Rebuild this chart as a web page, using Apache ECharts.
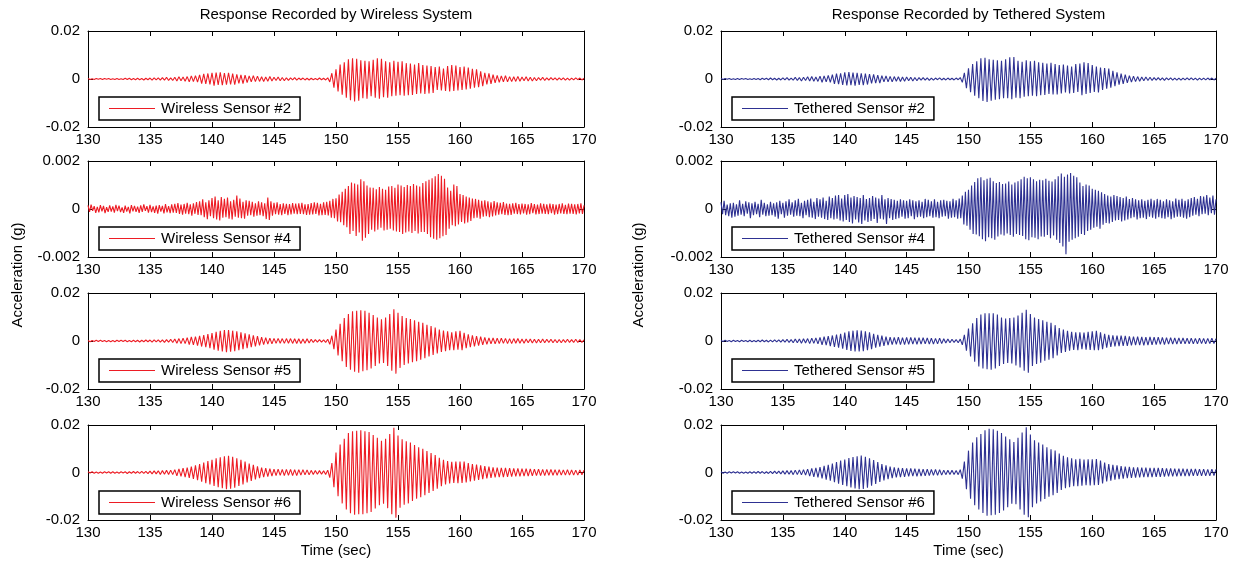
<!DOCTYPE html>
<html><head><meta charset="utf-8">
<script src="https://cdn.jsdelivr.net/npm/echarts@6/dist/echarts.min.js"></script>
<style>html,body{margin:0;padding:0;background:#fff}#c{width:1237px;height:564px}</style>
</head><body><div id="c"></div>
<script>
// ---------------- DATA ----------------
// Time axis: seconds 130..170. Each series is sampled uniformly from 130 s.
const xTickLabels = [130, 135, 140, 145, 150, 155, 160, 165, 170];
const samplesPerSecMain = 6;   // sensors #2, #5, #6
const samplesPerSecS4 = 8;     // sensor #4
const valueUnit = 1e-4;        // values below are in units of 1e-4 g

const wireless2 = [
2,-2,1,-2,2,-1, 2,-2,2,-1,2,-2, 1,-2,2,-2,1,-2, 3,-2,3,-3,2,-3, 3,-3,2,-4,3,-3,
4,-5,5,-4,5,-5, 6,-5,7,-6,5,-6, 7,-8,9,-7,8,-9, 10,-12,13,-11,14,-13, 17,-19,21,-20,23,-22,
26,-28,27,-25,28,-26, 25,-24,26,-23,22,-24, 19,-18,17,-19,16,-15, 13,-12,14,-11,12,-10, 9,-10,8,-9,10,-8,
7,-6,8,-7,6,-7, 5,-6,5,-4,6,-5, 4,-3,4,-4,3,-4, 3,-3,2,-3,4,-3, 3,-4,5,-12,24,-36,
40,-52,60,-65,70,-78, 82,-88,86,-94,84,-90, 78,-80,76,-82,74,-72, 80,-78,86,-82,84,-76, 74,-78,70,-72,76,-70,
72,-68,74,-70,66,-68, 64,-66,60,-62,66,-60, 58,-62,56,-60,54,-58, 50,-46,52,-48,44,-50, 54,-52,58,-50,56,-48,
50,-46,52,-44,48,-40, 42,-36,40,-34,32,-30, 26,-22,24,-20,18,-16, 15,-14,13,-12,14,-12, 10,-11,9,-10,11,-9,
8,-7,9,-8,7,-8, 6,-7,6,-5,7,-6, 5,-5,6,-4,5,-5, 5,-4,5,-5,4,-5, 4,-4,5,-3,4,-4,
3];

const tethered2 = [
2,-2,2,-1,2,-2, 1,-2,2,-2,2,-1, 2,-2,1,-2,2,-2, 2,-3,3,-2,3,-3, 4,-3,3,-4,3,-4,
5,-4,6,-5,4,-5, 7,-6,6,-8,7,-6, 9,-8,10,-9,8,-10, 12,-14,13,-12,15,-14, 18,-20,22,-21,24,-25,
28,-27,29,-26,27,-28, 26,-25,24,-26,22,-23, 20,-18,19,-17,16,-17, 14,-12,13,-12,11,-12, 10,-9,9,-10,8,-9,
8,-7,7,-8,6,-7, 6,-5,6,-5,5,-6, 4,-5,4,-3,5,-4, 3,-4,4,-3,3,-4, 4,-3,6,-14,26,-38,
45,-55,62,-70,74,-80, 86,-92,88,-96,82,-90, 80,-86,78,-84,76,-80, 82,-80,90,-84,92,-78, 76,-80,72,-74,78,-72,
74,-70,76,-72,70,-68, 68,-66,64,-62,68,-64, 62,-64,58,-60,60,-56, 56,-60,52,-58,62,-54, 64,-68,70,-62,66,-58,
58,-54,52,-56,48,-46, 46,-40,44,-36,34,-30, 28,-24,22,-20,18,-16, 14,-13,12,-11,10,-9, 8,-7,8,-6,7,-6,
6,-5,6,-5,5,-6, 5,-4,5,-5,4,-5, 4,-5,4,-4,5,-4, 5,-4,4,-5,4,-4, 4,-4,4,-3,4,-4,
3];

const wireless4 = [
1.5,-1.2,1.8,-0.8,1.2,-1.6,0.9,-1.4, 1.6,-1.0,1.3,-1.7,0.8,-1.2,1.5,-1.1, 1.1,-1.5,1.7,-0.9,1.4,-1.3,0.7,-1.6,
1.4,-1.1,0.9,-1.8,1.6,-1.0,1.3,-1.2, 1.0,-1.6,1.5,-1.2,1.9,-0.8,1.2,-1.5, 1.7,-1.3,1.1,-1.6,1.4,-1.9,1.6,-1.1,
1.3,-1.8,2.0,-1.4,1.2,-1.7,1.9,-1.5, 2.2,-1.6,2.5,-2.0,1.8,-2.4,2.1,-1.9, 2.6,-2.2,1.9,-2.8,2.4,-2.0,2.9,-2.5,
3.2,-2.6,4.0,-3.4,2.8,-4.2,3.6,-3.0, 4.6,-3.8,5.2,-4.4,3.6,-4.8,5.0,-3.6, 4.2,-3.4,4.8,-4.0,3.2,-4.4,3.8,-3.2,
5.6,-3.6,4.4,-3.8,3.0,-4.0,3.6,-2.8, 3.4,-2.6,3.0,-3.2,2.4,-2.8,3.2,-2.6, 2.8,-3.0,2.4,-4.2,4.8,-4.6,3.2,-2.8,
2.6,-2.2,2.8,-2.4,2.0,-2.6,2.4,-2.0, 2.2,-2.6,2.0,-2.3,2.5,-1.9,2.3,-2.2, 2.4,-2.0,2.6,-2.2,1.9,-2.5,2.1,-2.4,
2.5,-2.3,2.8,-2.1,2.6,-2.7,2.2,-2.6, 2.8,-2.5,3.0,-2.7,3.4,-3.6,4.2,-3.8,
4.5,-5.2,6.0,-5.5,7.2,-6.8,8.4,-7.6, 9.6,-10.4,11.0,-9.2,10.6,-11.2,10.2,-9.8, 12.4,-13.2,11.6,-12.0,9.8,-10.4,9.0,-8.6,
8.8,-9.4,8.2,-8.6,9.2,-7.8,8.4,-9.0, 8.0,-8.6,9.4,-8.2,9.6,-9.0,8.8,-9.4, 10.2,-9.6,9.8,-10.4,9.2,-9.8,10.0,-9.4,
9.6,-10.0,10.4,-9.2,9.8,-10.2,9.4,-9.6, 10.8,-9.6,11.6,-10.4,12.2,-11.8,12.8,-12.4, 13.6,-12.8,14.6,-12.2,13.8,-11.4,12.6,-10.8,
9.0,-8.2,7.6,-6.8,10.2,-7.2,9.6,-6.4, 6.2,-5.4,5.8,-6.0,5.2,-5.6,4.8,-5.0, 4.4,-3.8,4.2,-3.6,3.8,-4.0,3.4,-3.2,
3.6,-3.0,3.2,-3.4,2.8,-3.1,3.3,-2.7, 2.8,-2.4,2.6,-2.2,2.9,-2.5,2.3,-2.6, 2.2,-2.5,2.4,-1.9,2.6,-2.1,2.0,-2.3,
2.3,-1.8,2.1,-2.4,1.9,-2.2,2.5,-1.7, 2.0,-2.3,1.8,-2.1,2.4,-1.9,2.2,-2.0, 1.9,-2.2,2.3,-1.7,2.0,-2.4,1.8,-2.1,
2.1,-1.8,2.4,-2.0,1.7,-2.2,2.3,-1.9, 2.2,-2.0,1.9,-2.3,2.1,-1.8,2.4,-2.0,
1.5];

const tethered4 = [
2.8,-2.2,3.4,-2.6,1.8,-3.0,2.4,-3.6, 2.6,-3.2,2.0,-2.8,3.6,-2.4,2.2,-3.0, 3.2,-2.0,2.8,-3.8,2.4,-2.6,3.0,-2.2,
2.2,-3.4,3.8,-2.4,2.6,-3.0,2.0,-2.8, 3.0,-2.6,2.4,-3.2,2.8,-4.0,3.4,-2.2, 2.6,-3.6,3.2,-2.8,4.0,-2.4,2.8,-3.2,
3.6,-2.8,4.2,-3.0,2.6,-3.8,3.4,-2.6, 3.8,-3.4,4.4,-3.6,3.0,-4.2,4.6,-3.2, 4.0,-3.6,4.8,-4.2,3.4,-4.6,5.2,-3.8,
4.6,-4.4,5.6,-4.0,5.8,-4.8,4.4,-5.2, 5.8,-4.6,6.2,-5.4,4.8,-6.0,5.4,-4.4, 5.0,-5.6,4.6,-6.2,5.8,-4.8,4.2,-5.4,
4.6,-5.0,5.4,-4.2,4.8,-5.8,4.4,-4.0, 5.8,-4.4,4.0,-6.2,4.6,-3.8,4.2,-4.6, 3.8,-4.2,3.4,-3.8,4.0,-3.2,3.6,-4.0,
3.4,-3.8,4.0,-3.0,3.6,-4.2,3.2,-3.4, 3.6,-3.2,3.0,-3.8,4.2,-3.4,3.8,-3.0, 3.2,-3.6,4.0,-3.4,3.0,-3.8,3.6,-3.2,
3.8,-3.0,3.4,-4.0,3.2,-3.6,4.2,-3.4, 3.6,-4.0,4.4,-3.8,5.6,-6.4,7.2,-7.0,
8.0,-8.6,9.8,-10.4,11.2,-10.6,12.8,-11.4, 13.2,-12.6,12.0,-13.4,12.6,-11.8,13.0,-12.2, 11.6,-12.8,10.8,-11.4,11.2,-10.6,10.4,-11.0,
10.6,-10.2,11.4,-10.8,10.2,-11.6,11.0,-10.4, 11.6,-10.8,12.4,-11.2,13.4,-12.6,12.8,-13.0, 13.2,-11.8,12.4,-12.0,11.6,-12.6,12.2,-11.4,
12.0,-11.6,12.6,-10.8,11.8,-12.2,11.4,-11.0, 12.4,-12.8,13.6,-14.2,14.8,-15.6,13.4,-18.8, 14.4,-13.6,15.0,-12.8,13.8,-12.2,13.2,-11.6,
11.0,-10.4,9.6,-10.8,10.2,-9.2,9.8,-8.6, 8.4,-7.8,8.0,-7.4,7.6,-8.2,7.0,-6.6, 6.2,-5.8,5.6,-6.0,5.2,-5.4,5.8,-4.8,
5.4,-4.6,5.0,-5.2,4.6,-4.8,5.2,-4.4, 4.2,-3.8,4.6,-3.4,4.0,-4.4,3.6,-3.8, 4.0,-3.6,3.4,-4.2,3.8,-3.2,4.2,-3.6,
3.6,-4.0,4.2,-3.4,3.8,-3.8,3.2,-4.0, 4.0,-3.4,3.6,-4.2,3.2,-3.6,4.4,-3.2, 3.8,-3.2,4.2,-3.6,3.4,-4.0,4.0,-3.4,
4.6,-2.8,5.0,-2.4,4.2,-3.0,5.4,-2.2, 5.2,-2.0,5.8,-2.6,4.8,-1.8,5.6,-2.4,
4.0];

const wireless5 = [
2,-3,2,-2,3,-2, 3,-2,2,-3,2,-3, 2,-3,3,-2,3,-2, 3,-3,2,-3,3,-3, 3,-4,3,-3,4,-3,
4,-5,5,-4,5,-5, 5,-6,6,-5,7,-6, 8,-9,10,-11,12,-11, 14,-15,17,-16,18,-19, 21,-23,25,-26,29,-30,
33,-36,38,-40,42,-44, 46,-47,46,-45,43,-42, 40,-38,36,-34,32,-30, 28,-26,24,-22,20,-18, 16,-15,14,-13,12,-12,
11,-10,11,-9,10,-10, 10,-9,10,-10,9,-10, 9,-10,8,-9,9,-8, 7,-6,6,-5,6,-5, 5,-6,7,-14,22,-34,
48,-60,72,-84,96,-108, 112,-120,124,-128,126,-132, 128,-126,126,-122,118,-114, 108,-104,98,-94,90,-92, 98,-104,112,-124,132,-136,
118,-112,104,-100,96,-94, 92,-88,86,-84,80,-78, 76,-72,68,-64,62,-58, 56,-52,48,-46,44,-42, 40,-38,36,-38,40,-36,
42,-38,34,-30,28,-26, 24,-22,20,-19,18,-16, 15,-14,13,-12,13,-12, 12,-11,12,-10,11,-11, 10,-11,10,-9,10,-9,
8,-9,8,-7,8,-8, 7,-8,7,-7,8,-7, 7,-6,7,-7,6,-7, 6,-7,6,-6,7,-6, 6,-6,7,-6,6,-6,
5];

const tethered5 = [
2,-2,3,-2,2,-3, 3,-2,2,-3,3,-2, 2,-3,3,-3,2,-3, 3,-3,4,-3,3,-4, 4,-4,5,-4,5,-5,
6,-5,7,-6,6,-7, 8,-7,8,-9,9,-8, 10,-11,12,-10,13,-12, 15,-16,18,-17,20,-21, 23,-25,27,-28,30,-32,
35,-37,40,-41,43,-44, 45,-44,44,-42,40,-38, 36,-34,30,-28,26,-24, 22,-20,18,-17,16,-15, 15,-14,16,-15,14,-15,
15,-14,15,-13,14,-14, 14,-13,14,-12,13,-13, 12,-13,11,-12,12,-11, 9,-8,8,-7,7,-6, 6,-7,8,-16,26,-40,
52,-64,74,-86,96,-106, 110,-114,116,-118,116,-120, 116,-114,110,-104,98,-96, 94,-92,96,-94,98,-102, 106,-110,118,-124,130,-132,
112,-104,98,-96,92,-90, 86,-82,80,-78,76,-72, 66,-60,54,-50,48,-46, 42,-40,38,-37,36,-38, 36,-34,35,-36,38,-37,
40,-38,42,-38,36,-34, 30,-28,26,-25,24,-23, 22,-21,22,-20,21,-20, 19,-18,18,-17,18,-17, 17,-18,16,-17,17,-16,
16,-15,16,-14,15,-15, 14,-13,14,-13,13,-13, 13,-12,13,-12,12,-12, 12,-12,11,-12,12,-11, 11,-12,11,-11,12,-11,
10];

const wireless6 = [
3,-2,3,-3,2,-3, 2,-3,3,-2,3,-3, 3,-3,2,-3,3,-2, 3,-4,3,-3,4,-3, 4,-4,5,-4,5,-5,
6,-6,7,-6,7,-8, 8,-7,9,-8,10,-9, 12,-14,15,-16,18,-19, 21,-23,25,-27,30,-32, 36,-39,42,-45,48,-50,
54,-57,60,-62,64,-66, 68,-70,70,-68,66,-64, 60,-57,54,-50,46,-42, 38,-35,32,-29,26,-24, 21,-20,18,-17,16,-15,
14,-13,14,-12,13,-13, 13,-12,13,-13,12,-13, 12,-11,12,-10,11,-10, 9,-8,8,-7,8,-7, 7,-8,10,-22,40,-62,
84,-100,118,-130,142,-156, 166,-172,174,-178,176,-176, 178,-176,174,-172,170,-166, 158,-152,146,-138,134,-132, 142,-150,162,-176,188,-190,
156,-148,140,-136,132,-130, 126,-120,116,-110,106,-104, 100,-96,90,-86,82,-78, 74,-68,62,-58,54,-50, 48,-46,45,-44,46,-45,
46,-44,46,-42,40,-38, 36,-34,33,-31,30,-28, 27,-25,25,-23,22,-21, 21,-20,20,-19,19,-18, 18,-17,17,-16,17,-16,
16,-15,16,-15,15,-14, 14,-13,14,-13,13,-13, 13,-12,13,-12,12,-12, 12,-11,11,-11,12,-11, 11,-11,10,-11,11,-10,
10];

const tethered6 = [
3,-3,2,-3,3,-2, 3,-2,3,-3,2,-3, 2,-3,3,-3,3,-3, 4,-3,4,-4,3,-4, 5,-5,6,-5,6,-6,
7,-7,8,-7,8,-9, 10,-9,11,-10,12,-11, 14,-15,17,-18,20,-21, 23,-25,28,-30,32,-34, 38,-41,44,-47,50,-52,
55,-58,61,-63,65,-67, 68,-70,71,-69,66,-64, 60,-56,52,-48,44,-40, 36,-33,30,-28,25,-24, 22,-21,20,-19,18,-18,
17,-16,17,-15,16,-16, 15,-15,14,-14,14,-13, 13,-12,13,-12,12,-11, 10,-9,9,-8,9,-8, 8,-9,12,-26,46,-70,
92,-110,126,-138,148,-156, 162,-170,178,-182,184,-180, 182,-178,176,-170,166,-160, 152,-146,140,-132,128,-134, 146,-156,168,-178,190,-188,
160,-146,136,-130,126,-122, 118,-112,106,-102,98,-96, 92,-86,80,-74,70,-66, 64,-62,60,-58,56,-58, 58,-56,55,-54,56,-55,
56,-54,57,-52,50,-46, 42,-38,36,-34,32,-30, 30,-28,27,-26,25,-24, 24,-23,22,-22,22,-21, 21,-20,21,-20,20,-19,
19,-18,19,-18,18,-17, 17,-16,17,-16,16,-16, 16,-15,16,-15,15,-15, 15,-14,15,-14,14,-14, 14,-14,13,-14,14,-13,
13];

const panelNames = [
  'Wireless Sensor #2', 'Wireless Sensor #4', 'Wireless Sensor #5', 'Wireless Sensor #6',
  'Tethered Sensor #2', 'Tethered Sensor #4', 'Tethered Sensor #5', 'Tethered Sensor #6'];
const panelData = [wireless2, wireless4, wireless5, wireless6, tethered2, tethered4, tethered5, tethered6];
const panelRates = [samplesPerSecMain, samplesPerSecS4, samplesPerSecMain, samplesPerSecMain,
                    samplesPerSecMain, samplesPerSecS4, samplesPerSecMain, samplesPerSecMain];
const panelYMax = [0.02, 0.002, 0.02, 0.02, 0.02, 0.002, 0.02, 0.02];
const columnTitles = ['Response Recorded by Wireless System', 'Response Recorded by Tethered System'];
const yAxisTitle = 'Acceleration (g)';
const xAxisTitle = 'Time (sec)';

// ---------------- LAYOUT / STYLE ----------------
const FONT = '"Liberation Sans", Arial, Helvetica, sans-serif';
const colors = ['#ed1c24', '#2e3192'];
const colLeft = [88, 721], colWidth = [496, 495];
const rowTop = [31, 161, 293, 425], rowHeight = [96, 96, 96, 95];

const grids = [], xAxes = [], yAxes = [], series = [], legends = [];
panelNames.forEach((name, i) => {
  const col = i < 4 ? 0 : 1, row = i % 4;
  const gl = colLeft[col], gt = rowTop[row];
  const color = colors[col];
  const ymax = panelYMax[i];
  grids.push({ left: gl, top: gt, width: colWidth[col], height: rowHeight[row], show: false });
  const lineStyle = { color: '#000', width: 1 };
  const xBase = { gridIndex: i, type: 'value', min: xTickLabels[0], max: xTickLabels[xTickLabels.length - 1], interval: 5,
    axisLine: { show: true, onZero: false, lineStyle }, axisTick: { show: true, inside: true, length: 5, lineStyle },
    splitLine: { show: false } };
  xAxes.push(Object.assign({}, xBase, { position: 'bottom',
    axisLabel: { show: true, margin: 5, fontSize: 15, color: '#000', fontFamily: FONT } }));
  xAxes.push(Object.assign({}, xBase, { position: 'top', axisLabel: { show: false } }));
  const yBase = { gridIndex: i, type: 'value', min: -ymax, max: ymax, interval: ymax,
    axisLine: { show: true, onZero: false, lineStyle }, axisTick: { show: true, inside: true, length: 5, lineStyle },
    splitLine: { show: false } };
  yAxes.push(Object.assign({}, yBase, { position: 'left',
    axisLabel: { show: true, margin: 8, fontSize: 15, color: '#000', fontFamily: FONT,
      formatter: v => Math.abs(v) < 1e-12 ? '0' : String(+v.toPrecision(6)) } }));
  yAxes.push(Object.assign({}, yBase, { position: 'right', axisLabel: { show: false } }));
  const rate = panelRates[i];
  series.push({
    type: 'line', name, xAxisIndex: 2 * i, yAxisIndex: 2 * i,
    data: panelData[i].map((v, k) => [130 + k / rate, v * valueUnit]),
    symbol: 'none', showSymbol: false, color, sampling: null,
    lineStyle: { color, width: 1.1 }, itemStyle: { color },
    animation: false, silent: true, z: 2
  });
  legends.push({
    data: [name], left: gl + 11, top: gt + 66, orient: 'horizontal', selectedMode: false,
    backgroundColor: '#fff', borderColor: '#000', borderWidth: 1.5, borderRadius: 0,
    padding: [4, 9, 4, 10], icon: 'rect', itemWidth: 46, itemHeight: 1, itemGap: 0,
    textStyle: { fontSize: 15, color: '#000', fontFamily: FONT, padding: [0, 0, 0, 1] }, z: 10
  });
});

const textStyle = (t) => ({ text: t, fontSize: 15, fontFamily: FONT, fill: '#000',
  align: 'center', verticalAlign: 'middle', textAlign: 'center', textVerticalAlign: 'middle' });
const graphics = [];
[0, 1].forEach(col => {
  const cx = colLeft[col] + colWidth[col] / 2;
  graphics.push({ type: 'text', x: cx, y: 15, style: textStyle(columnTitles[col]) });
  graphics.push({ type: 'text', x: cx, y: 551, style: textStyle(xAxisTitle) });
  graphics.push({ type: 'text', x: col === 0 ? 18 : 639, y: 275, rotation: Math.PI / 2, style: textStyle(yAxisTitle) });
});

const chart = echarts.init(document.getElementById('c'), null, { renderer: 'canvas' });
chart.setOption({
  backgroundColor: '#fff', animation: false,
  grid: grids, xAxis: xAxes, yAxis: yAxes, series, legend: legends, graphic: graphics
});
</script></body></html>
